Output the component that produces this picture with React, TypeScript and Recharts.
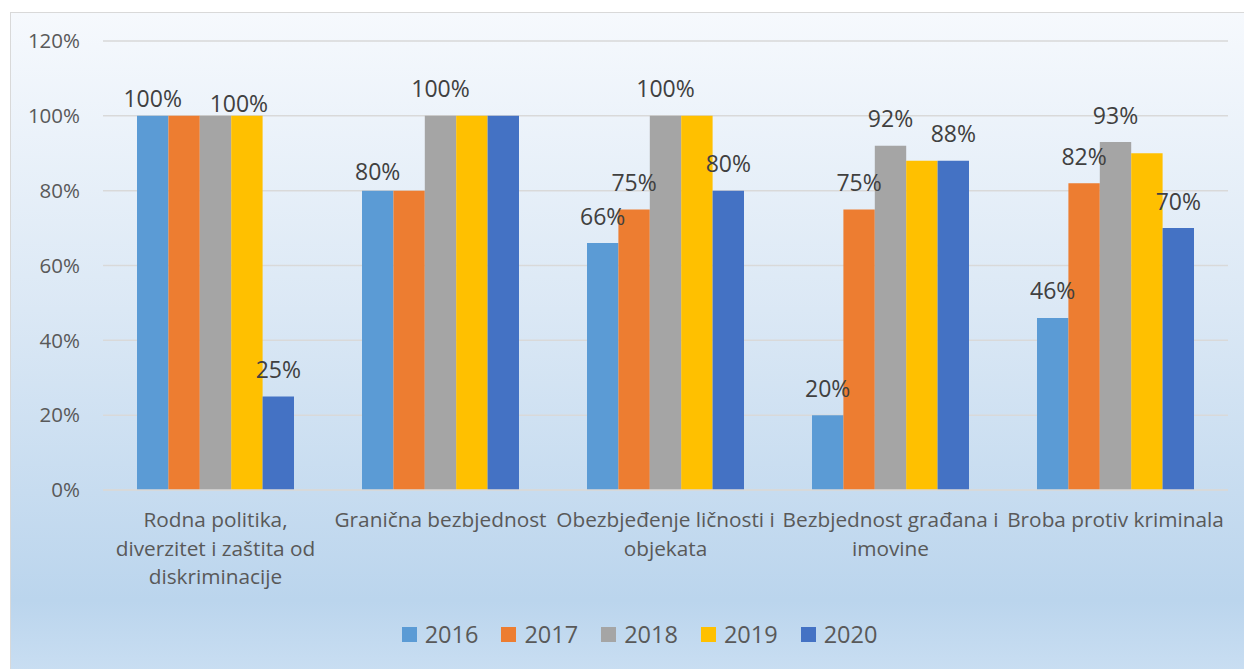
import React from 'react';
import { BarChart, Bar, XAxis, YAxis, CartesianGrid, Legend } from 'recharts';

const categories = [
  'Rodna politika, diverzitet i zaštita od diskriminacije',
  'Granična bezbjednost',
  'Obezbjeđenje ličnosti i objekata',
  'Bezbjednost građana i imovine',
  'Broba protiv kriminala',
];
// tick label lines as wrapped in the original
const categoryLines = [
  ['Rodna politika,', 'diverzitet i zaštita od', 'diskriminacije'],
  ['Granična bezbjednost'],
  ['Obezbjeđenje ličnosti i', 'objekata'],
  ['Bezbjednost građana i', 'imovine'],
  ['Broba protiv kriminala'],
];

const years = ['2016', '2017', '2018', '2019', '2020'];
const v2016 = [100, 80, 66, 20, 46];
const v2017 = [100, 80, 75, 75, 82];
const v2018 = [100, 100, 100, 92, 93];
const v2019 = [100, 100, 100, 88, 90];
const v2020 = [25, 100, 80, 88, 70];

// which bars carry a data label
const lbl2016 = [true, true, true, true, true];
const lbl2017 = [false, false, true, true, true];
const lbl2018 = [false, true, true, true, true];
const lbl2019 = [true, false, false, false, false];
const lbl2020 = [true, false, true, true, true];

const yTicks = [0, 20, 40, 60, 80, 100, 120];

const colors = ['#5b9bd5', '#ed7d31', '#a5a5a5', '#ffc000', '#4472c4'];
const seriesValues = [v2016, v2017, v2018, v2019, v2020];
const seriesLabels = [lbl2016, lbl2017, lbl2018, lbl2019, lbl2020];

const data = categories.map((name, i) => {
  const row: any = { name, idx: i };
  years.forEach((y, s) => { row[y] = seriesValues[s][i]; });
  return row;
});

const FONT = '"Open Sans", "Liberation Sans", sans-serif';

// small nudges where the original moved labels to avoid overlap
const nudge: Record<string, { dx: number; dy: number }> = {
  '0-0': { dx: 0, dy: 10 },
  '3-0': { dx: -8, dy: 15 },
  '0-1': { dx: 0, dy: 8 },
};

const makeLabel = (s: number) => (props: any) => {
  const { x, y, width, value, index } = props;
  if (!seriesLabels[s][index]) return null;
  const n = nudge[`${s}-${index}`] || { dx: 0, dy: 0 };
  return (
    <text
      x={x + width / 2 + n.dx}
      y={y - 18.5 + n.dy}
      textAnchor="middle"
      fill="#404040"
      fontSize={23}
      fontFamily={FONT}
    >
      {value}%
    </text>
  );
};

const CategoryTick = (props: any) => {
  const { x, y, payload } = props;
  const lines = categoryLines[payload.index] || [payload.value];
  return (
    <text x={x} y={y + 37} textAnchor="middle" fill="#595959" fontSize={20.8} fontFamily={FONT}>
      {lines.map((l, i) => (
        <tspan key={i} x={x} dy={i === 0 ? 0 : 28.5}>{l}</tspan>
      ))}
    </text>
  );
};

const LegendContent = () => (
  <div style={{ display: 'flex', justifyContent: 'center', height: 30, alignItems: 'center', paddingLeft: 40 }}>
    {years.map((y, i) => (
      <div key={y} style={{ display: 'flex', alignItems: 'center', marginRight: i < years.length - 1 ? 23 : 0 }}>
        <span style={{ width: 15, height: 15, background: colors[i], display: 'inline-block', marginRight: 8 }} />
        <span style={{ fontSize: 23.5, color: '#595959', fontFamily: FONT }}>{y}</span>
      </div>
    ))}
  </div>
);

export default function App() {
  return (
    <div>
      <style>{`body{margin:0;overflow:hidden}`}</style>
      <div
        style={{
          position: 'absolute',
          left: 10,
          top: 12,
          width: 1240,
          height: 660,
          border: '1px solid #d9d9d9',
          background: 'linear-gradient(to bottom, #f6f9fd 0%, #dbe8f5 45%, #bbd5ed 89%, #c9def2 100%)',
        }}
      >
        <BarChart
          width={1232}
          height={656}
          data={data}
          margin={{ top: 28, right: 15, bottom: 20, left: 0 }}
          barGap={0}
          barSize={31.4}
        >
          <CartesianGrid vertical={false} stroke="#d9d9d9" strokeWidth={1.5} />
          <XAxis
            dataKey="name"
            height={129}
            tickSize={0}
            tickMargin={0}
            axisLine={{ stroke: '#d9d9d9', strokeWidth: 1.5 }}
            tickLine={false}
            interval={0}
            tick={<CategoryTick />}
          />
          <YAxis
            width={92}
            domain={[0, 120]}
            ticks={yTicks}
            tickFormatter={(v: number) => `${v}%`}
            axisLine={false}
            tickLine={false}
            tickSize={0}
            tickMargin={23}
            tick={{ fill: '#595959', fontSize: 20.5, fontFamily: FONT }}
          />
          <Legend verticalAlign="bottom" content={<LegendContent />} />
          {years.map((y, s) => (
            <Bar key={y} dataKey={y} fill={colors[s]} isAnimationActive={false} label={makeLabel(s)} />
          ))}
        </BarChart>
      </div>
    </div>
  );
}
